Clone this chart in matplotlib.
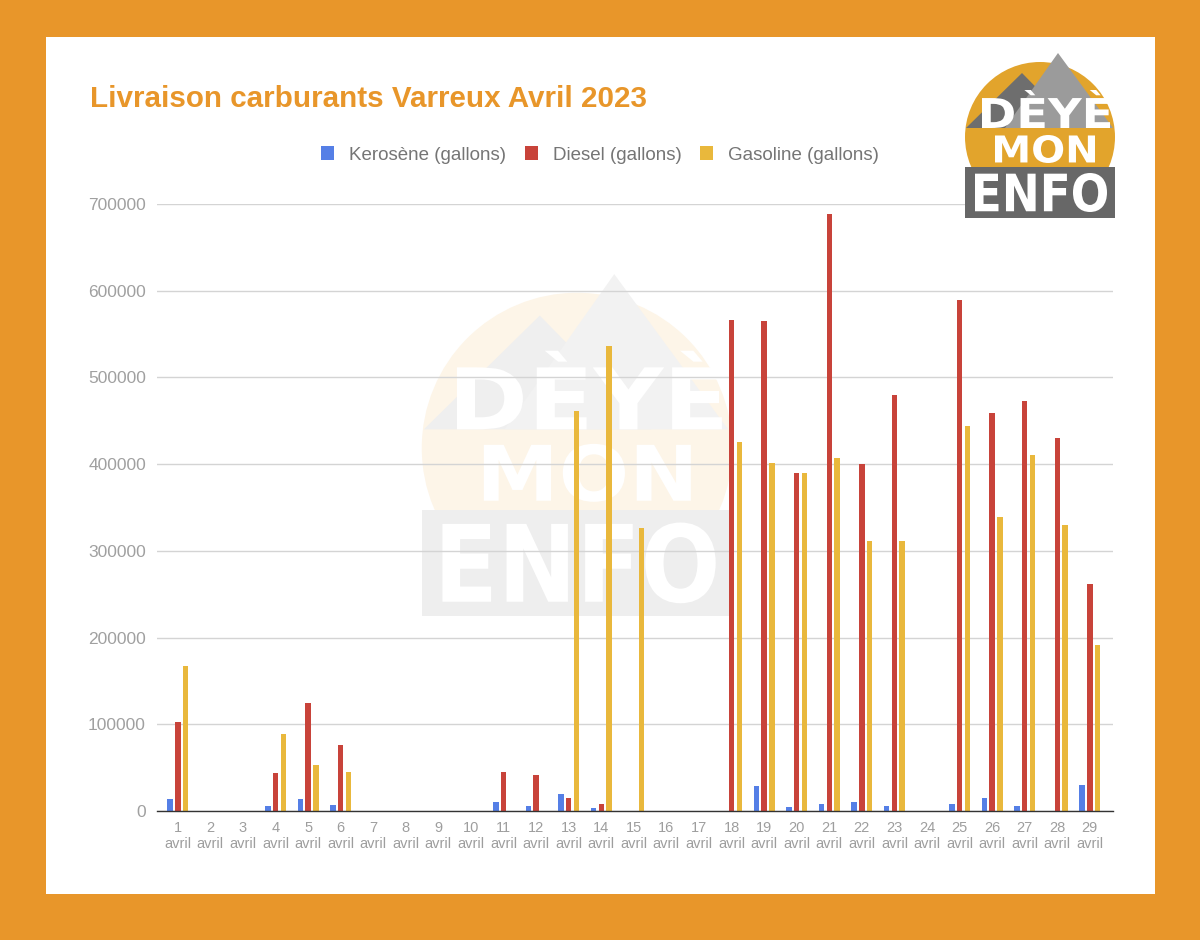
import numpy as np
import matplotlib
matplotlib.use("Agg")
import matplotlib.pyplot as plt
from matplotlib.patches import Rectangle, Circle, Polygon, PathPatch
from matplotlib.textpath import TextPath
from matplotlib.font_manager import FontProperties
from matplotlib.transforms import Affine2D

# ---------------- data ----------------
days = [str(d) for d in range(1, 30)]
tick_labels = [f"{d}\navril" for d in days]
series_names = ["Kerosène (gallons)", "Diesel (gallons)", "Gasoline (gallons)"]
kerosene = [14000, 0, 0, 6000, 14000, 7000, 0, 0, 0, 0, 10000, 6000, 20000, 3000, 0,
            0, 0, 0, 29000, 5000, 8500, 10000, 6000, 0, 7500, 15500, 6000, 0, 30000]
diesel = [103000, 0, 0, 44000, 125000, 76000, 0, 0, 0, 0, 45000, 41000, 15500, 8500, 0,
          0, 0, 566000, 565000, 390000, 688000, 400000, 480000, 0, 589000, 459000, 473000, 430000, 262000]
gasoline = [167000, 0, 0, 89000, 53000, 45000, 0, 0, 0, 0, 0, 0, 461000, 536000, 326000,
            0, 0, 426000, 401000, 390000, 407000, 311000, 311000, 0, 444000, 339000, 410000, 330000, 191000]
y_ticks = [0, 100000, 200000, 300000, 400000, 500000, 600000, 700000]
title = "Livraison carburants Varreux Avril 2023"

colors = ["#557FE6", "#C8433A", "#E9B83C"]
ORANGE = "#E8962A"

W, H = 1200, 940
fig = plt.figure(figsize=(W / 100, H / 100), dpi=100)
fig.patch.set_facecolor(ORANGE)

# background pixel axes
bg = fig.add_axes([0, 0, 1, 1], zorder=0)
bg.set_xlim(0, W)
bg.set_ylim(H, 0)
bg.axis("off")
bg.add_patch(Rectangle((46, 37), 1109, 857, facecolor="white", edgecolor="none"))

fp_logo = FontProperties(family="DejaVu Sans", weight="bold")


def fit_text(axp, s, box, color, z):
    tp = TextPath((0, 0), s, size=100, prop=fp_logo)
    bb = tp.get_extents()
    x0, y0, x1, y1 = box
    sx = (x1 - x0) / bb.width
    sy = (y1 - y0) / bb.height
    tr = Affine2D().translate(-bb.x0, -bb.y0).scale(sx, -sy).translate(x0, y1)
    axp.add_patch(PathPatch(tr.transform_path(tp), facecolor=color, edgecolor="none", zorder=z))


def draw_logo(axp, cx, cy, s, c_circle, c_dark, c_light, c_rect, c_text):
    def P(dx, dy):
        return (cx + dx * s, cy + dy * s)
    axp.add_patch(Circle((cx, cy), 75 * s, facecolor=c_circle, edgecolor="none", zorder=1))
    axp.add_patch(Polygon([P(-18, -64), P(-74, -9), P(36, -9)], closed=True,
                          facecolor=c_dark, edgecolor="none", zorder=2))
    axp.add_patch(Polygon([P(18, -84), P(-35, -9), P(73, -9)], closed=True,
                          facecolor=c_light, edgecolor="none", zorder=3))
    axp.add_patch(Rectangle(P(-75, 30), 150 * s, 51 * s, facecolor=c_rect, edgecolor="none", zorder=4))
    x0, y0 = P(-58, -47)
    x1, y1 = P(70, -9)
    fit_text(axp, "DÈYÈ", (x0, y0, x1, y1), c_text, 5)
    x0, y0 = P(-45, -2)
    x1, y1 = P(55, 26)
    fit_text(axp, "MON", (x0, y0, x1, y1), c_text, 5)
    x0, y0 = P(-65, 36)
    x1, y1 = P(67, 75)
    fit_text(axp, "ENFO", (x0, y0, x1, y1), c_text, 5)


# faint watermark
draw_logo(bg, 577, 448, 2.07, "#FDF5E8", "#EFEFEF", "#F2F2F2", "#EEEEEE", "white")

# title
bg.text(90, 107, title, fontsize=21.3, fontweight="bold", color=ORANGE,
        family="Liberation Sans", ha="left", va="baseline")

# main chart axes
left, right, top, bottom = 157, 1113, 204, 811
ax = fig.add_axes([left / W, (H - bottom) / H, (right - left) / W, (bottom - top) / H], zorder=1)
ax.patch.set_alpha(0)

x = np.arange(len(days))
bw = 0.17
off = 0.24
ax.bar(x - off, kerosene, bw, color=colors[0], label=series_names[0], zorder=3)
ax.bar(x, diesel, bw, color=colors[1], label=series_names[1], zorder=3)
ax.bar(x + off, gasoline, bw, color=colors[2], label=series_names[2], zorder=3)

ax.set_xlim(-0.64, len(days) - 1 + 0.71)
ax.set_ylim(0, 700000)
ax.set_yticks(y_ticks)
ax.set_yticklabels([str(v) for v in y_ticks], fontsize=12.5, color="#A0A0A0", family="Liberation Sans")
ax.set_xticks(x)
ax.set_xticklabels(tick_labels, fontsize=10.5, color="#9E9E9E", family="Liberation Sans", linespacing=1.25)
ax.tick_params(axis="y", length=0, pad=8)
ax.tick_params(axis="x", length=0, pad=7)
ax.yaxis.grid(True, color="#D4D4D4", lw=1, zorder=0)
ax.set_axisbelow(True)
for sp in ["top", "right", "left"]:
    ax.spines[sp].set_visible(False)
ax.spines["bottom"].set_color("#333333")
ax.spines["bottom"].set_linewidth(1)
ax.spines["bottom"].set_zorder(4)

leg = ax.legend(loc="center", bbox_to_anchor=((600 - left) / (right - left), (bottom - 155) / (bottom - top)),
                ncol=3, frameon=False, handlelength=0.7, handleheight=0.7, handletextpad=0.8,
                columnspacing=1.0, prop=FontProperties(family="Liberation Sans", size=13.5))
for t in leg.get_texts():
    t.set_color("#757575")

# foreground logo (top right)
fg = fig.add_axes([0, 0, 1, 1], zorder=3)
fg.set_xlim(0, W)
fg.set_ylim(H, 0)
fg.axis("off")
fg.patch.set_alpha(0)
draw_logo(fg, 1040, 137, 1.0, "#E2A42C", "#6E6E6E", "#9B9B9B", "#676767", "white")

fig.savefig("out.png", dpi=100, facecolor=fig.get_facecolor())
